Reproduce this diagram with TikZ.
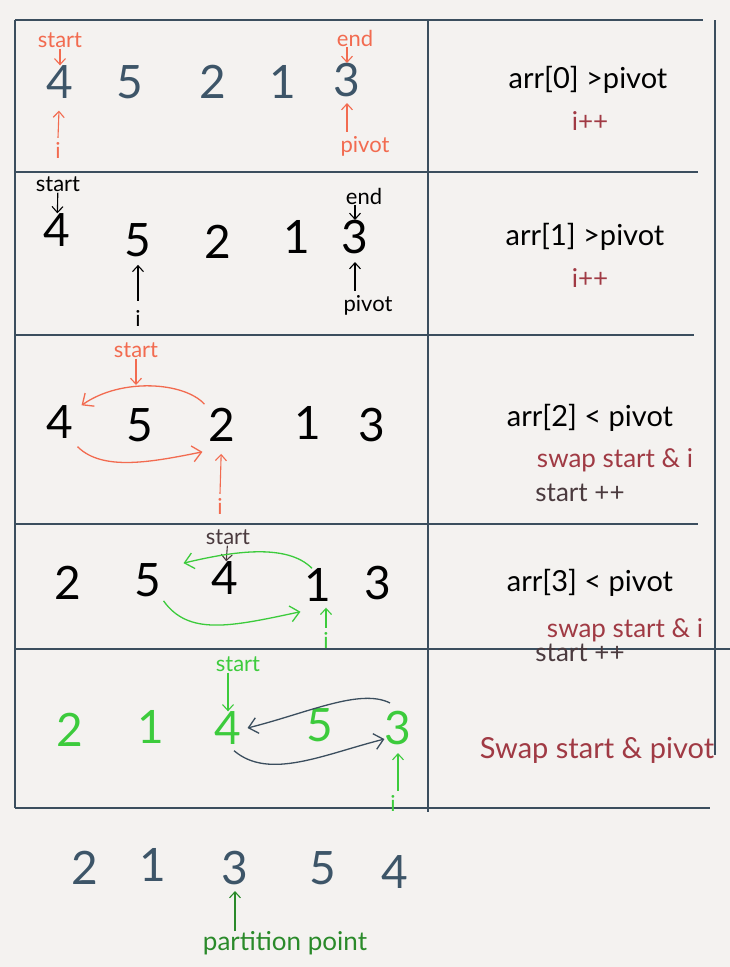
\documentclass[tikz,border=0pt]{standalone}
\usepackage{fontspec}
\setmainfont{Lato}
\usepackage{tikz}
\usetikzlibrary{arrows.meta}
\definecolor{frame}{HTML}{3B4E5E}
\definecolor{paper}{HTML}{F4F2F0}
\definecolor{inkblue}{HTML}{3D5568}
\definecolor{coral}{HTML}{F26B50}
\definecolor{wine}{HTML}{A03A44}
\definecolor{lime}{HTML}{3CCB3C}
\definecolor{forest}{HTML}{2A8A2A}
\definecolor{plum}{HTML}{4A3A3E}
\tikzset{
  digit/.style={font=\fontsize{46}{46}\selectfont, inner sep=0pt},
  tag/.style={font=\fontsize{22}{22}\selectfont, inner sep=1pt},
  rule/.style={font=\fontsize{29}{29}\selectfont, inner sep=0pt},
  note/.style={font=\fontsize{26}{26}\selectfont, inner sep=0pt},
  pointer/.style={-{Straight Barb[length=6pt,width=11pt]}, line width=1.1pt},
  swaparc/.style={-{Straight Barb[length=9pt,width=16pt]}, line width=1.3pt},
  gridline/.style={frame, line width=2.6pt},
}
\begin{document}
\begin{tikzpicture}[x=1pt,y=-1pt]
\fill[paper] (0,0) rectangle (730,967);
\useasboundingbox (0,0) rectangle (730,967);
% table
\draw[gridline] (15,20)--(703,20);
\draw[gridline] (15,172)--(698,172);
\draw[gridline] (15,335)--(694,335);
\draw[gridline] (15,524)--(698,524);
\draw[gridline] (15,649)--(730,649);
\draw[gridline] (15,808)--(710,808);
\draw[gridline] (15,20)--(15,808);
\draw[gridline] (428,20)--(428,812);
\draw[gridline] (715,20)--(715,755);

% row 1
\begin{scope}[inkblue]
\node[digit] (d11) at (60,82) {4};
\node[digit] (d12) at (130,82) {5};
\node[digit] (d13) at (213,82) {2};
\node[digit] (d14) at (283,82) {1};
\node[digit] (d15) at (347,80) {3};
\end{scope}
\node[tag, coral] (s1) at (60,40) {start};
\node[tag, coral] (e1) at (355,38) {end};
\node[tag, coral] (i1) at (58,150) {i};
\node[tag, coral] (p1) at (365,146) {pivot};
\draw[pointer, coral] (s1) -- (d11);
\draw[pointer, coral] (e1.south -| d15) -- (d15);
\draw[pointer, coral, shorten >=12pt] ([yshift=3pt]i1.north) -- (d11);
\draw[pointer, coral, shorten >=6pt] ([yshift=3pt]p1.north -| d15) -- (d15);
\node[rule] (r1) at (588,80) {arr[0] >pivot};
\node[note, wine] (n1) at (590,121) {i++};

% row 2
\node[digit] (d21) at (57,230) {4};
\node[digit] (d22) at (138,240) {5};
\node[digit] (d23) at (218,242) {2};
\node[digit] (d24) at (297,237) {1};
\node[digit] (d25) at (355,237) {3};
\node[tag] (s2) at (58,184) {start};
\node[tag] (e2) at (364,196) {end};
\node[tag] (i2) at (138,318) {i};
\node[tag] (p2) at (368,305) {pivot};
\draw[pointer] (s2) -- (d21);
\draw[pointer] (e2.south -| d25) -- (d25);
\draw[pointer, shorten >=8pt] ([yshift=8pt]i2.north) -- (d22);
\draw[pointer, shorten >=8pt] ([yshift=3pt]p2.north -| d25) -- (d25);
\node[rule] (r2) at (585,237) {arr[1] >pivot};
\node[note, wine] (n2) at (590,278) {i++};

% row 3
\node[digit] (d31) at (60,422) {4};
\node[digit] (d32) at (140,425) {5};
\node[digit] (d33) at (222,425) {2};
\node[digit] (d34) at (308,423) {1};
\node[digit] (d35) at (372,425) {3};
\node[tag, coral] (s3) at (136,350) {start};
\node[tag, coral] (i3) at (220,506) {i};
\draw[pointer, coral] (s3) -- (s3 |- 0,385);
\draw[swaparc, coral] ([shift={(-4,-4)}]d33.north west) .. controls +(-20,-22) and +(40,-28) .. ([xshift=8pt]d31.north east);
\draw[swaparc, coral] ([shift={(4,8)}]d31.south east) .. controls +(25,25) and +(-50,10) .. ([shift={(-6,10)}]d33.south west);
\draw[pointer, coral, shorten >=12pt] ([yshift=3pt]i3.north) -- (d33);
\node[rule] (r3) at (590,418) {arr[2] < pivot};
\node[note, wine] (n3) at (615,460) {swap start \& i};
\node[note, plum] (m3) at (580,493) {start ++};

% row 4
\node[digit] (d41) at (68,583) {2};
\node[digit] (d42) at (148,580) {5};
\node[digit] (d43) at (225,578) {4};
\node[digit] (d44) at (318,585) {1};
\node[digit] (d45) at (378,583) {3};
\node[tag, plum] (s4) at (228,537) {start};
\node[tag, lime] (i4) at (326,640) {i};
\draw[pointer, plum] (s4) -- (d43);
\draw[swaparc, lime] ([shift={(-6,0)}]d44.north) .. controls +(-25,-25) and +(50,-12) .. ([xshift=22pt]d42.north east);
\draw[swaparc, lime] ([shift={(2,4)}]d42.south east) .. controls +(25,35) and +(-70,15) .. ([shift={(-4,10)}]d44.south west);
\draw[pointer, lime, shorten >=6pt] ([yshift=3pt]i4.north) -- (i4 |- d44.south);
\node[rule] (r4) at (590,583) {arr[3] < pivot};
\node[note, wine] (n4) at (625,630) {swap start \& i};
\node[note, plum] (m4) at (580,653) {start ++};

% row 5
\begin{scope}[lime]
\node[digit] (d51) at (70,730) {2};
\node[digit] (d52) at (151,727) {1};
\node[digit] (d53) at (228,728) {4};
\node[digit] (d54) at (320,725) {5};
\node[digit] (d55) at (398,728) {3};
\end{scope}
\node[tag, lime] (s5) at (238,664) {start};
\node[tag, lime] (i5) at (393,803) {i};
\draw[pointer, lime] (s5.south -| d53) -- (d53);
\draw[swaparc, frame] ([shift={(-8,-8)}]d55.north) .. controls +(-30,-15) and +(60,-15) .. ([xshift=6pt]d53.east);
\draw[swaparc, frame] ([shift={(6,6)}]d53.south) .. controls +(35,30) and +(-60,15) .. ([shift={(0,-6)}]d55.south west);
\draw[pointer, lime, shorten >=8pt] ([yshift=3pt]i5.north -| d55) -- (d55);
\node[rule, wine] (r5) at (597,750) {Swap start \& pivot};

% result
\begin{scope}[inkblue]
\node[digit] (f1) at (85,868) {2};
\node[digit] (f2) at (153,865) {1};
\node[digit] (f3) at (235,868) {3};
\node[digit] (f4) at (323,868) {5};
\node[digit] (f5) at (395,872) {4};
\end{scope}
\node[note, forest] (pp) at (285,943) {partition point};
\draw[pointer, forest, shorten >=6pt] (pp.north -| f3) -- (f3);
\end{tikzpicture}
\end{document}
